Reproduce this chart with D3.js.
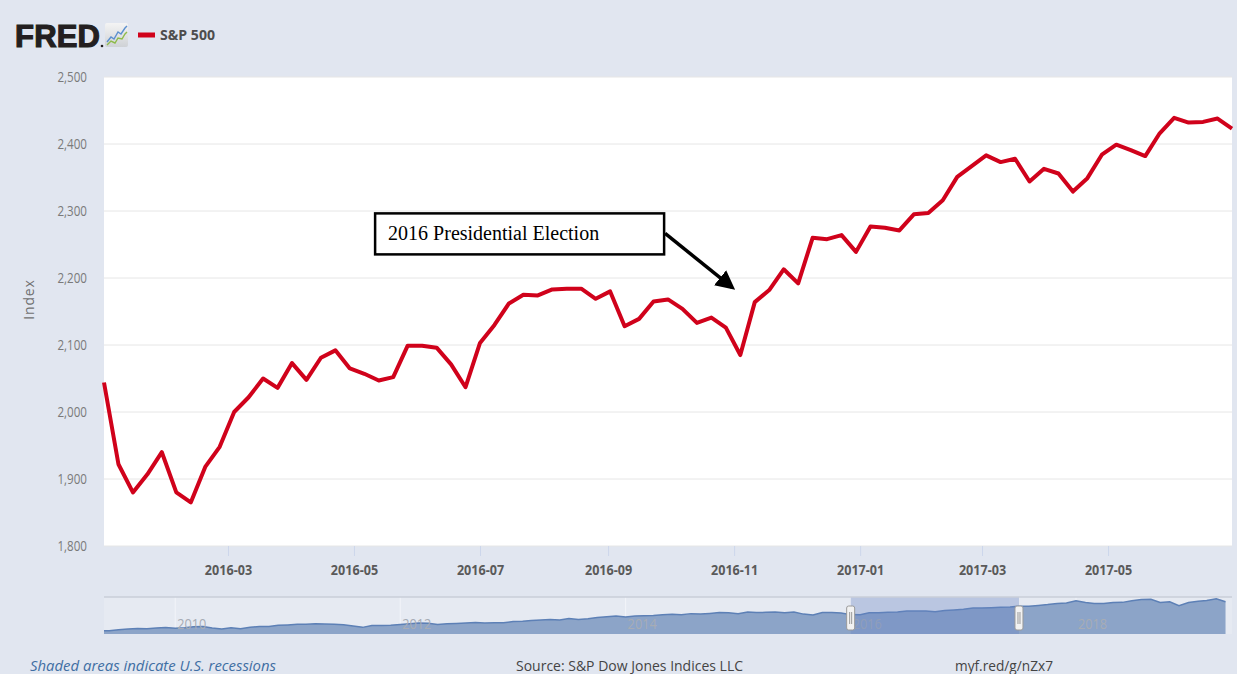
<!DOCTYPE html>
<meta charset="utf-8">
<style>
  body { margin: 0; background: #e1e6f0; }
  svg { display: block; }
  .narrow { font-family: "Open Sans", "DejaVu Sans", sans-serif; }
  .grid line { stroke: #e6e6e6; }
</style>
<svg width="1237" height="674"></svg>
<script src="https://cdn.jsdelivr.net/npm/d3@7"></script>
<script>

// weekly S&P 500 (week ending Friday), 2016-01-01 .. 2017-06-30
var sp500 = [2044, 1922, 1880, 1907, 1940, 1880, 1865, 1918, 1948, 2000, 2022, 2050, 2036,
             2073, 2048, 2081, 2092, 2065, 2057, 2047, 2052, 2099, 2099, 2096, 2071, 2037,
             2103, 2130, 2162, 2175, 2174, 2183, 2184, 2184, 2169, 2180, 2128, 2139, 2165,
             2168, 2154, 2133, 2141, 2126, 2085, 2164, 2182, 2213, 2192, 2260, 2258, 2264,
             2239, 2277, 2275, 2271, 2295, 2297, 2316, 2351, 2367, 2383, 2373, 2378, 2344,
             2363, 2356, 2329, 2349, 2384, 2399, 2391, 2382, 2416, 2439, 2432, 2433, 2438, 2423];
var weeks = d3.timeFriday.range(new Date(2016, 0, 1), new Date(2017, 6, 1));

// monthly values for the navigator, 2009-05 .. 2019-05
var navValues = [919, 919, 987, 1021, 1057, 1036, 1096, 1115,
  1074, 1104, 1169, 1187, 1089, 1031, 1102, 1049, 1141, 1183, 1181, 1258,
  1286, 1327, 1326, 1364, 1345, 1321, 1292, 1219, 1131, 1253, 1247, 1258,
  1312, 1366, 1408, 1398, 1310, 1362, 1379, 1407, 1441, 1412, 1416, 1426,
  1498, 1515, 1569, 1598, 1631, 1606, 1686, 1633, 1682, 1757, 1806, 1848,
  1783, 1859, 1872, 1884, 1924, 1960, 1931, 2003, 1972, 2018, 2068, 2059,
  1995, 2105, 2068, 2086, 2107, 2063, 2104, 1972, 1920, 2079, 2080, 2044,
  1940, 1932, 2060, 2065, 2097, 2099, 2174, 2171, 2168, 2126, 2199, 2239,
  2279, 2364, 2363, 2384, 2412, 2423, 2470, 2472, 2519, 2575, 2648, 2674,
  2824, 2714, 2641, 2648, 2705, 2718, 2816, 2902, 2914, 2712, 2760, 2507,
  2704, 2784, 2834, 2946, 2752];
var navMonths = d3.timeMonth.range(new Date(2009, 4, 1), new Date(2019, 5, 1));

var yTicks = [1800, 1900, 2000, 2100, 2200, 2300, 2400, 2500];
var xTicks = ["2016-03-01", "2016-05-01", "2016-07-01", "2016-09-01",
              "2016-11-01", "2017-01-01", "2017-03-01", "2017-05-01"];
var navTicks = ["2010-01-01", "2012-01-01", "2014-01-01", "2016-01-01", "2018-01-01"];

var seriesName = "S&P 500";
var note = { date: "2016-11-01", value: 2183, label: "2016 Presidential Election" };

var parse = d3.timeParse("%Y-%m-%d");
var svg = d3.select("svg");

var plot = { left: 104, right: 1232, top: 77, bottom: 546 };

var x = d3.scaleTime()
    .domain([weeks[0], weeks[weeks.length - 1]])
    .range([plot.left, plot.right]);
var y = d3.scaleLinear()
    .domain([1800, 2500])
    .range([plot.bottom, plot.top]);

// page background + plot area
svg.append("rect").attr("width", 1237).attr("height", 674).attr("fill", "#e1e6f0");
svg.append("rect")
    .attr("x", plot.left).attr("y", plot.top)
    .attr("width", plot.right - plot.left).attr("height", plot.bottom - plot.top)
    .attr("fill", "#fff");

// horizontal grid
svg.append("g").attr("class", "grid")
    .selectAll("line").data(yTicks).enter().append("line")
    .attr("x1", plot.left).attr("x2", plot.right)
    .attr("y1", function(d) { return y(d); })
    .attr("y2", function(d) { return y(d); });

// y axis (labels squeezed to look like the condensed FRED font)
var yAxis = svg.append("g")
    .attr("class", "narrow")
    .attr("transform", "translate(" + plot.left + ",0)")
    .call(d3.axisLeft(y).tickValues(yTicks).tickFormat(d3.format(",")).tickSize(0));
yAxis.select(".domain").remove();
yAxis.selectAll("text")
    .attr("fill", "#7a7a7a").attr("font-size", 14)
    .attr("x", -17 / 0.83)
    .attr("transform", "scale(0.83,1)");

// x axis
var xAxis = svg.append("g")
    .attr("class", "narrow")
    .attr("transform", "translate(0," + plot.bottom + ")")
    .call(d3.axisBottom(x).tickValues(xTicks.map(parse)).tickFormat(d3.timeFormat("%Y-%m")).tickSize(10).tickPadding(8));
xAxis.select(".domain").remove();
xAxis.selectAll("line").attr("stroke", "#ccd6eb");
xAxis.selectAll("text")
    .attr("fill", "#5a5a5a").attr("font-size", 15).attr("font-weight", "bold")
    .attr("transform", "scale(0.84,1)");

// axis title
svg.append("text")
    .attr("transform", "translate(34," + ((plot.top + plot.bottom) / 2 - 12) + ") rotate(-90)")
    .attr("text-anchor", "middle")
    .attr("font-family", "'Open Sans', sans-serif")
    .attr("font-size", 14)
    .attr("letter-spacing", 0.8)
    .attr("fill", "#707070")
    .text("Index");

// series line
var line = d3.line()
    .x(function(d, i) { return x(weeks[i]); })
    .y(function(d) { return y(d); });
svg.append("path")
    .datum(sp500)
    .attr("d", line)
    .attr("fill", "none")
    .attr("stroke", "#d0021b")
    .attr("stroke-width", 4)
    .attr("stroke-linejoin", "round");

// annotation
var tipX = x(parse(note.date)), tipY = y(note.value);
var box = { x: tipX - 359, y: tipY - 76, w: 289, h: 41 };
svg.append("rect")
    .attr("x", box.x).attr("y", box.y).attr("width", box.w).attr("height", box.h)
    .attr("fill", "#fff").attr("stroke", "#000").attr("stroke-width", 2.5);
svg.append("text")
    .attr("x", box.x + 13).attr("y", box.y + 27)
    .attr("font-family", "'Liberation Serif', 'Times New Roman', serif")
    .attr("font-size", 20)
    .attr("fill", "#000")
    .text(note.label);
svg.append("defs").append("marker")
    .attr("id", "arrow").attr("viewBox", "0 0 10 10")
    .attr("refX", 8).attr("refY", 5)
    .attr("markerWidth", 5.5).attr("markerHeight", 5.5)
    .attr("orient", "auto")
  .append("path").attr("d", "M0,0L10,5L0,10z").attr("fill", "#000");
svg.append("line")
    .attr("x1", box.x + box.w + 1).attr("y1", box.y + 20)
    .attr("x2", tipX - 2).attr("y2", tipY - 2)
    .attr("stroke", "#000").attr("stroke-width", 3.5)
    .attr("marker-end", "url(#arrow)");

// header: logo + legend
svg.append("text")
    .attr("x", 15).attr("y", 47)
    .attr("font-family", "'Liberation Sans', Arial, sans-serif")
    .attr("font-weight", "bold")
    .attr("font-size", 31)
    .attr("letter-spacing", -1)
    .attr("fill", "#231f20")
    .attr("stroke", "#231f20").attr("stroke-width", 1.2)
    .attr("textLength", 84)
    .text("FRED");
svg.append("circle").attr("cx", 102).attr("cy", 46).attr("r", 1.3).attr("fill", "#231f20");
var icon = svg.append("g").attr("transform", "translate(105,23)");
var grad = svg.select("defs").append("linearGradient").attr("id", "ig").attr("x1", 0).attr("y1", 0).attr("x2", 0).attr("y2", 1);
grad.append("stop").attr("offset", 0).attr("stop-color", "#f4f4f4");
grad.append("stop").attr("offset", 1).attr("stop-color", "#cfd2d6");
icon.append("rect").attr("width", 23).attr("height", 24).attr("rx", 2).attr("fill", "url(#ig)");
icon.append("polyline").attr("points", "2,19 6,14 9,16 13,9 16,11 20,5 22,3")
    .attr("fill", "none").attr("stroke", "#5b8fcf").attr("stroke-width", 1.4);
icon.append("polyline").attr("points", "2,22 6,18 10,20 13,15 17,16 20,11 22,9")
    .attr("fill", "none").attr("stroke", "#8dbb4a").attr("stroke-width", 1.4);

svg.append("line")
    .attr("x1", 138).attr("x2", 155).attr("y1", 35).attr("y2", 35)
    .attr("stroke", "#d0021b").attr("stroke-width", 5);
svg.append("text")
    .attr("class", "narrow")
    .attr("x", 160).attr("y", 40)
    .attr("font-size", 14)
    .attr("font-weight", "bold")
    .attr("fill", "#4d4d4d")
    .attr("textLength", 55)
    .attr("lengthAdjust", "spacingAndGlyphs")
    .text(seriesName);

// navigator
var nav = { top: 597, bottom: 634 };
var navX = d3.scaleTime()
    .domain([new Date(2009, 4, 15), new Date(2019, 4, 22)])
    .range([plot.left, plot.right]);
var navY = d3.scaleLinear().domain([900, 2900]).range([631, 599.5]);

svg.append("clipPath").attr("id", "navclip")
  .append("rect").attr("x", plot.left).attr("y", nav.top)
    .attr("width", plot.right - plot.left).attr("height", nav.bottom - nav.top);

var navG = svg.append("g").attr("clip-path", "url(#navclip)");
navG.append("rect").attr("x", plot.left).attr("y", nav.top)
    .attr("width", plot.right - plot.left).attr("height", nav.bottom - nav.top)
    .attr("fill", "#e6eaf2");
navG.selectAll("line.vt").data(navTicks).enter().append("line")
    .attr("x1", function(d) { return navX(parse(d)); })
    .attr("x2", function(d) { return navX(parse(d)); })
    .attr("y1", nav.top).attr("y2", nav.bottom)
    .attr("stroke", "#f2f4f9");
navG.append("path")
    .datum(navValues)
    .attr("d", d3.area()
        .x(function(d, i) { return navX(navMonths[i]); })
        .y0(nav.bottom)
        .y1(function(d) { return navY(d); }))
    .attr("fill", "#8ca4c8");
navG.append("path")
    .datum(navValues)
    .attr("d", d3.line()
        .x(function(d, i) { return navX(navMonths[i]); })
        .y(function(d) { return navY(d); }))
    .attr("fill", "none").attr("stroke", "#5d80b6").attr("stroke-width", 1.5);
navG.selectAll("text").data(navTicks).enter().append("text")
    .attr("class", "narrow")
    .attr("x", function(d) { return (navX(parse(d)) + 2) / 0.85; })
    .attr("y", 629)
    .attr("transform", "scale(0.85,1)")
    .attr("font-size", 15)
    .attr("fill", "#a7acb5")
    .text(function(d) { return d.slice(0, 4); });

var selA = navX(weeks[0]), selB = navX(weeks[weeks.length - 1]);
navG.append("rect")
    .attr("x", selA).attr("y", nav.top)
    .attr("width", selB - selA).attr("height", nav.bottom - nav.top)
    .attr("fill", "rgba(102,133,194,0.35)");
svg.append("line")
    .attr("x1", plot.left).attr("x2", plot.right)
    .attr("y1", nav.top).attr("y2", nav.top)
    .attr("stroke", "#c9ced8").attr("stroke-width", 1.5);

[selA, selB].forEach(function(hx) {
  var h = svg.append("g").attr("transform", "translate(" + hx + ",606)");
  h.append("rect").attr("x", -4).attr("y", 0).attr("width", 8).attr("height", 24).attr("rx", 2)
      .attr("fill", "#f2f2f2").attr("stroke", "#9a9a9a");
  h.append("line").attr("x1", -1).attr("x2", -1).attr("y1", 6).attr("y2", 18).attr("stroke", "#999");
  h.append("line").attr("x1", 1).attr("x2", 1).attr("y1", 6).attr("y2", 18).attr("stroke", "#999");
});

// footer
var foot = svg.append("g").attr("class", "narrow").attr("font-size", 15);
foot.append("text").attr("x", 30).attr("y", 671)
    .attr("font-style", "italic").attr("fill", "#3f6ea3")
    .attr("textLength", 246).attr("lengthAdjust", "spacingAndGlyphs")
    .text("Shaded areas indicate U.S. recessions");
foot.append("text").attr("x", 516).attr("y", 671).attr("fill", "#444")
    .attr("textLength", 227).attr("lengthAdjust", "spacingAndGlyphs")
    .text("Source: S&P Dow Jones Indices LLC");
foot.append("text").attr("x", 955).attr("y", 671).attr("fill", "#444")
    .attr("textLength", 98).attr("lengthAdjust", "spacingAndGlyphs")
    .text("myf.red/g/nZx7");

</script>
